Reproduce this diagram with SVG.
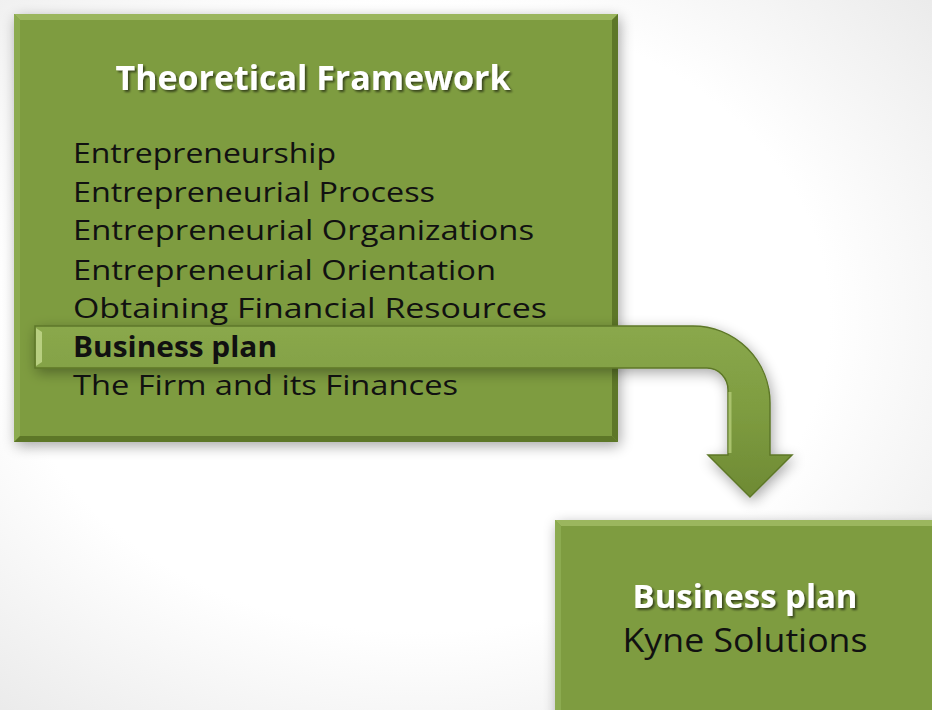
<svg xmlns="http://www.w3.org/2000/svg" width="932" height="710" viewBox="0 0 932 710">
  <defs>
    <radialGradient id="bg" cx="0.45" cy="0.45" r="0.8">
      <stop offset="0.55" stop-color="#ffffff"/>
      <stop offset="1" stop-color="#e4e4e4"/>
    </radialGradient>
    <filter id="shadow" x="-10%" y="-10%" width="125%" height="125%">
      <feGaussianBlur in="SourceAlpha" stdDeviation="7"/>
      <feOffset dx="2" dy="4" result="b"/>
      <feComponentTransfer><feFuncA type="linear" slope="0.35"/></feComponentTransfer>
      <feMerge><feMergeNode/><feMergeNode in="SourceGraphic"/></feMerge>
    </filter>
    <filter id="tshadow" x="-5%" y="-20%" width="110%" height="150%">
      <feGaussianBlur in="SourceAlpha" stdDeviation="1.2"/>
      <feOffset dx="1.5" dy="2" result="b"/>
      <feComponentTransfer><feFuncA type="linear" slope="0.55"/></feComponentTransfer>
      <feMerge><feMergeNode/><feMergeNode in="SourceGraphic"/></feMerge>
    </filter>
    <linearGradient id="arrowGrad" x1="0" y1="0" x2="0" y2="1">
      <stop offset="0" stop-color="#8aa84c"/>
      <stop offset="0.5" stop-color="#7e9c40"/>
      <stop offset="1" stop-color="#6e8a34"/>
    </linearGradient>
  </defs>
  <style>
    .box { fill: #7e9c40; }
    .lite { fill: #9bb65e; }
    .dark { fill: #5d7728; }
    .title { font-family: "Open Sans", "Liberation Sans", sans-serif; font-weight: bold; fill: #ffffff; }
    .item { font-family: "Open Sans", "Liberation Sans", sans-serif; font-size: 28px; fill: #111111; }
    .bold { font-weight: bold; }
  </style>
  <rect x="0" y="0" width="932" height="710" fill="url(#bg)"/>

  <g id="theoretical-framework">
    <g filter="url(#shadow)">
      <rect class="box" x="14" y="14" width="604" height="428"/>
    </g>
    <polygon class="lite" points="14,14 618,14 612,20 20,20"/>
    <polygon points="14,14 20,20 20,436 14,442" fill="#8cab50"/>
    <polygon class="dark" points="618,14 618,442 612,436 612,20"/>
    <polygon class="dark" points="14,442 618,442 612,436 20,436"/>
    <text class="title" x="313" y="90" font-size="34" text-anchor="middle" textLength="395" lengthAdjust="spacingAndGlyphs" filter="url(#tshadow)">Theoretical Framework</text>
    <text class="item" x="73" y="163" textLength="263" lengthAdjust="spacingAndGlyphs">Entrepreneurship</text>
    <text class="item" x="73" y="202" textLength="362" lengthAdjust="spacingAndGlyphs">Entrepreneurial Process</text>
    <text class="item" x="73" y="240" textLength="461" lengthAdjust="spacingAndGlyphs">Entrepreneurial Organizations</text>
    <text class="item" x="73" y="280" textLength="423" lengthAdjust="spacingAndGlyphs">Entrepreneurial Orientation</text>
    <text class="item" x="73" y="318" textLength="474" lengthAdjust="spacingAndGlyphs">Obtaining Financial Resources</text>
  </g>

  <g id="connectors">
    <path d="M35,326 L693,326 A77,77 0 0 1 770,403 L770,455 L792,455 L750,497 L708,455 L728,455 L728,390 A21,22 0 0 0 707,368 L35,368 Z" fill="url(#arrowGrad)" stroke="#5d7728" stroke-width="1.5" filter="url(#shadow)"/>
    <path d="M36,328 L42,332 L42,362 L36,366 Z" fill="#b8cf80"/>
    <path d="M730,392 L730,453" stroke="#a9c26c" stroke-width="3" fill="none"/>
  </g>

  <g id="list-overlay">
    <text class="item bold" x="73" y="357" textLength="204" lengthAdjust="spacingAndGlyphs">Business plan</text>
    <text class="item" x="73" y="395" textLength="385" lengthAdjust="spacingAndGlyphs">The Firm and its Finances</text>
  </g>

  <g id="business-plan">
    <g filter="url(#shadow)">
      <rect class="box" x="555" y="520" width="400" height="200"/>
    </g>
    <polygon class="lite" points="555,520 955,520 949,526 561,526"/>
    <polygon points="555,520 561,526 561,720 555,720" fill="#8cab50"/>
    <text class="title" x="745" y="608" font-size="32" text-anchor="middle" textLength="225" lengthAdjust="spacingAndGlyphs" filter="url(#tshadow)">Business plan</text>
    <text class="item" x="745" y="652" font-size="32" style="font-size:32px" text-anchor="middle" textLength="245" lengthAdjust="spacingAndGlyphs">Kyne Solutions</text>
  </g>
</svg>
